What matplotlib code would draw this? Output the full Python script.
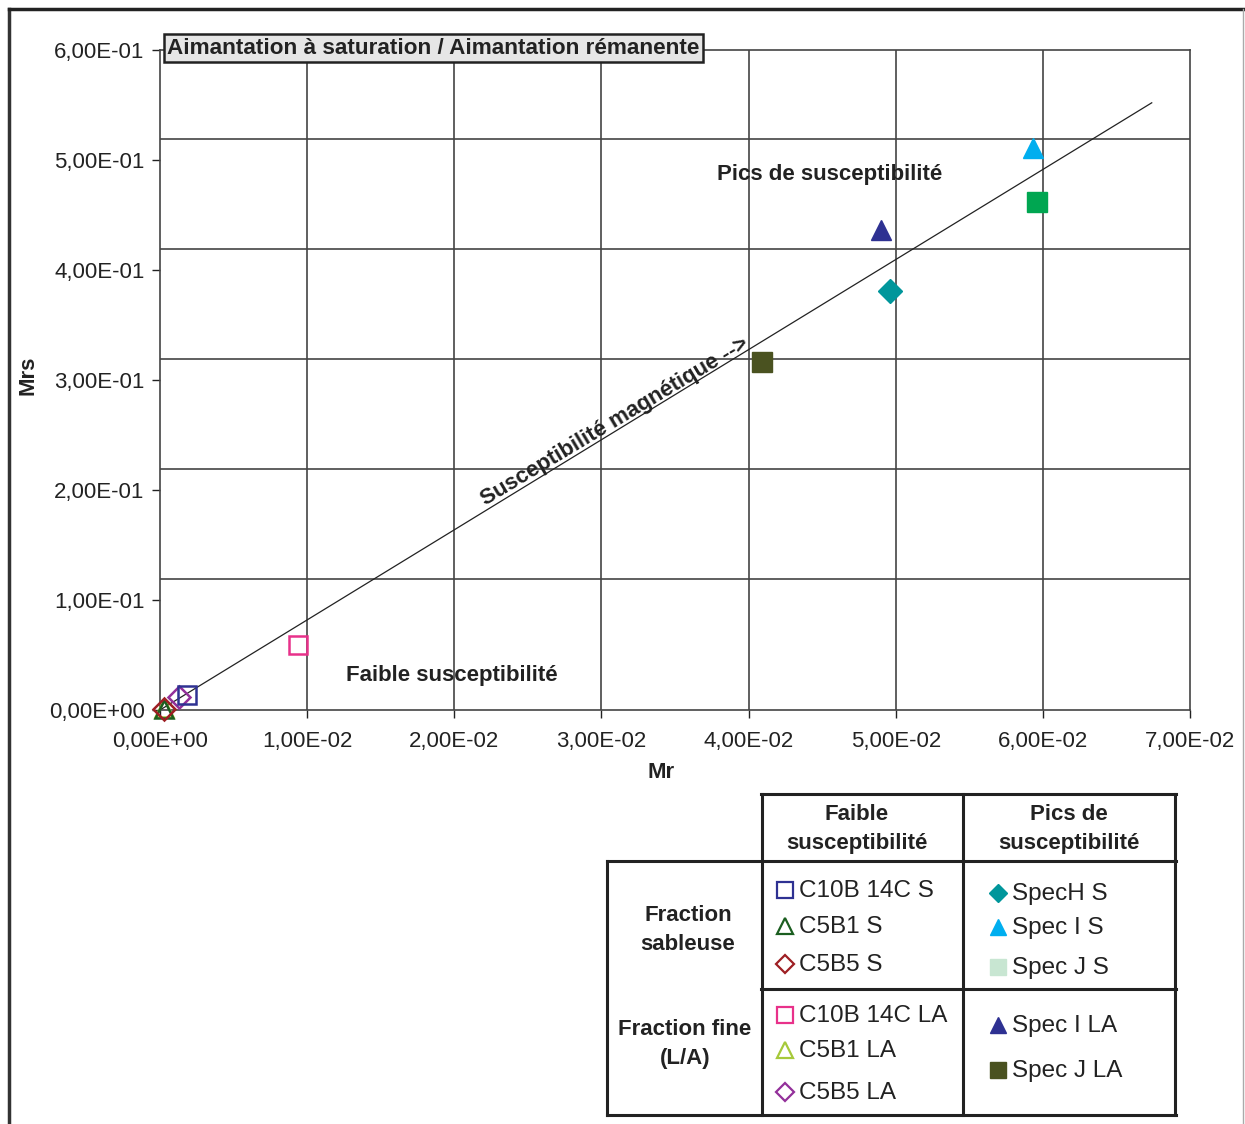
#!/usr/bin/env python3
"""
Mrs vs Mr scatter (aimantation a saturation / remanente)
"""

import matplotlib
matplotlib.use("Agg")
import matplotlib.pyplot as plt
from matplotlib.lines import Line2D
from matplotlib.ticker import FuncFormatter

plt.rcParams["font.family"] = ["Liberation Sans", "DejaVu Sans"]

# series: name, x (Mr), y (Mrs)
names = ["C10B 14C S", "C5B1 S", "C5B5 S", "C10B 14C LA", "C5B1 LA", "C5B5 LA",
         "SpecH S", "Spec I S", "Spec J S", "Spec I LA", "Spec J LA"]
mr = [0.00184, 0.0003, 0.0003, 0.0094, 0.0003, 0.0013,
      0.0496, 0.0593, 0.0596, 0.0490, 0.0409]
mrs = [0.0136, 0.001, 0.001, 0.059, 0.002, 0.012,
       0.381, 0.511, 0.462, 0.436, 0.316]

# marker style per series (marker, colour, filled)
markers = ["s", "^", "D", "s", "^", "D", "D", "^", "s", "^", "s"]
colors = ["#2E3192", "#1B5E20", "#9E1F24", "#E8318A", "#A6C93A", "#93309A",
          "#00969B", "#00AEEF", "#00A651", "#2E3192", "#4A5220"]
filled = [False] * 6 + [True] * 5
legend_colors = list(colors)
legend_colors[8] = "#C8E6D2"  # Spec J S shows pale in the table

# trend line
line_x = [0.0, 0.0674]
line_y = [0.0, 0.552]

x_ticks = [0.0, 0.01, 0.02, 0.03, 0.04, 0.05, 0.06, 0.07]
y_ticks = [0.0, 0.1, 0.2, 0.3, 0.4, 0.5, 0.6]
h_grid = [0.119, 0.219, 0.319, 0.419, 0.519]

W, H = 1245, 1124
fig = plt.figure(figsize=(W / 100, H / 100), dpi=100)


def fx(px):
    return px / W


def fy(py):
    return 1 - py / H


ax = fig.add_axes([fx(160), fy(710), fx(1190) - fx(160), fy(50) - fy(710)])
ax.set_xlim(0, 0.07)
ax.set_ylim(0, 0.6)

for v in x_ticks[1:-1]:
    ax.axvline(v, color="#444444", lw=1.2, zorder=1)
for v in h_grid:
    ax.axhline(v, color="#444444", lw=1.2, zorder=1)

ax.plot(line_x, line_y, color="#222222", lw=0.9, zorder=2)

for i in range(len(names)):
    ms = 14 if filled[i] else 13
    if markers[i] == "D":
        ms = 11 if not filled[i] else 12
    z = 4 if names[i].endswith(" S") else 3
    ax.plot(mr[i], mrs[i], marker=markers[i], ms=ms, ls="none",
            mfc=colors[i] if filled[i] else "none", mec=colors[i],
            mew=1.0 if filled[i] else 1.8, zorder=z, clip_on=False)

sci = FuncFormatter(lambda v, p: ("%.2E" % v).replace(".", ","))
ax.set_xticks(x_ticks)
ax.set_yticks(y_ticks)
ax.xaxis.set_major_formatter(sci)
ax.yaxis.set_major_formatter(sci)
ax.tick_params(labelsize=16, colors="#222222", length=6, width=1, pad=5)
ax.tick_params(axis="x", pad=9)
for s in ax.spines.values():
    s.set_color("#444444")
    s.set_linewidth(1.2)

fig.text(fx(28), fy(375), "Mrs", rotation=90, fontsize=16, fontweight="bold",
         ha="center", va="center", color="#222222")
fig.text(fx(661), fy(772), "Mr", fontsize=16, fontweight="bold",
         ha="center", va="center", color="#222222")

fig.text(fx(167), fy(48), "Aimantation à saturation / Aimantation rémanente",
         fontsize=16.2, fontweight="bold", ha="left", va="center", color="#222222",
         bbox=dict(boxstyle="square,pad=0.15", fc="#E6E6E6", ec="#222222", lw=1.8))

ax.text(0.0455, 0.487, "Pics de susceptibilité", fontsize=16, fontweight="bold",
        ha="center", va="center", color="#222222", zorder=5)
ax.text(0.0198, 0.031, "Faible susceptibilité", fontsize=16, fontweight="bold",
        ha="center", va="center", color="#222222", zorder=5)
ax.text(0.0309, 0.262, "Susceptibilité magnétique -->", fontsize=16,
        fontweight="bold", ha="center", va="center", color="#222222",
        rotation=31, rotation_mode="anchor", zorder=5)

# outer frame
fig.add_artist(Line2D([fx(9), fx(9)], [fy(9), 0], color="#333333", lw=2.5))
fig.add_artist(Line2D([fx(9), 1], [fy(9), fy(9)], color="#222222", lw=2.5))
fig.add_artist(Line2D([fx(1243), fx(1243)], [fy(9), 0], color="#AAAAAA", lw=1))


# legend table
def hline(y, x0, x1):
    fig.add_artist(Line2D([fx(x0), fx(x1)], [fy(y), fy(y)], color="#222222", lw=2.2))


def vline(x, y0, y1):
    fig.add_artist(Line2D([fx(x), fx(x)], [fy(y0), fy(y1)], color="#222222", lw=2.2))


hline(794, 761, 1176)
hline(861, 607, 1176)
hline(989, 761, 1176)
hline(1115, 607, 1176)
vline(607, 861, 1115)
vline(762, 794, 1115)
vline(963, 794, 1115)
vline(1175, 794, 1115)

hdr = dict(fontsize=16, fontweight="bold", ha="center", va="center",
           color="#222222", linespacing=1.45)
fig.text(fx(857), fy(829), "Faible\nsusceptibilité", **hdr)
fig.text(fx(1069), fy(829), "Pics de\nsusceptibilité", **hdr)
fig.text(fx(688), fy(930), "Fraction\nsableuse", **hdr)
fig.text(fx(685), fy(1044), "Fraction fine\n(L/A)", **hdr)

left_rows = [890, 926, 964, 1015, 1050, 1092]
right_rows = [893, 927, 967, 1025, 1070]
for i in range(len(names)):
    if i < 6:
        mx, ty = 785, left_rows[i]
    else:
        mx, ty = 998, right_rows[i - 6]
    ms = 11 if markers[i] != "D" else 9
    fig.add_artist(Line2D([fx(mx)], [fy(ty)], marker=markers[i], ms=ms, ls="none",
                          mfc=legend_colors[i] if filled[i] else "none",
                          mec=legend_colors[i], mew=1.0 if filled[i] else 1.6))
    fig.text(fx(mx + 14), fy(ty + 1), names[i], fontsize=17.5, ha="left", va="center",
             color="#222222")

fig.savefig("out.png", dpi=100)
